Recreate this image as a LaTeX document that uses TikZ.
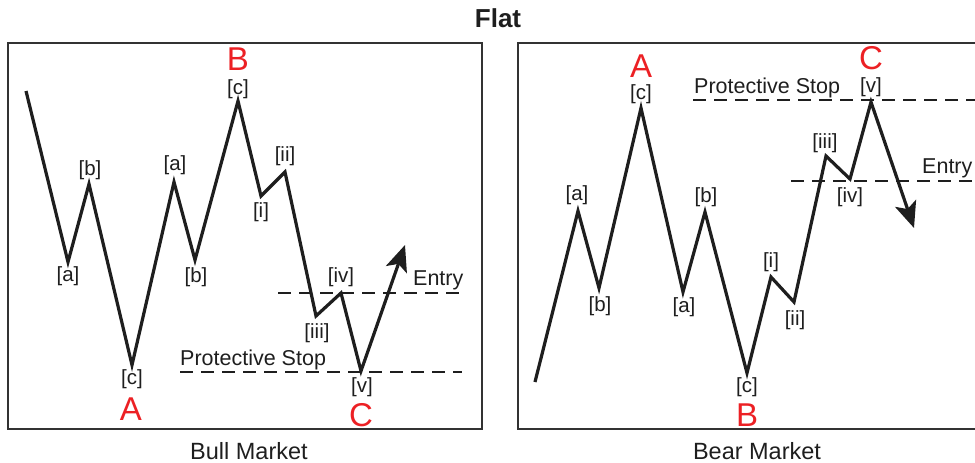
\documentclass[tikz,border=0pt]{standalone}
\usepackage{fontspec}
\setmainfont{Liberation Sans}
\usetikzlibrary{arrows.meta}
\definecolor{wred}{RGB}{236,32,36}
\definecolor{ink}{RGB}{30,30,30}
\definecolor{frame}{RGB}{50,50,50}
\begin{document}
\begin{tikzpicture}[x=1pt,y=-1pt,
  wave/.style={line width=3.2pt, line join=miter, draw=ink},
  wavearrow/.style={wave, -{Stealth[length=26pt,width=22pt,inset=6pt]}},
  panel/.style={line width=2.6pt, draw=frame},
  level/.style={line width=2.3pt, draw=ink, dash pattern=on 13pt off 8pt},
  lbl/.style={font=\fontsize{20.5}{20.5}\selectfont, text=ink, inner sep=0pt},
  note/.style={font=\fontsize{21.5}{21.5}\selectfont, text=ink, inner sep=0pt, anchor=base west},
  wl/.style={font=\fontsize{33}{33}\selectfont, text=wred, inner sep=0pt},
  captext/.style={font=\fontsize{23.5}{23.5}\selectfont, text=ink, inner sep=0pt},
  ttl/.style={font=\bfseries\fontsize{26}{26}\selectfont, text=ink, inner sep=0pt}]
\useasboundingbox (0,0) rectangle (975,463);
\clip (0,0) rectangle (975,463);

% title and captions
\node[ttl] (title) at (498,18.5) {Flat};
\node[captext] (bull) at (249,451) {Bull Market};
\node[captext] (bear) at (757,451) {Bear Market};

% panels
\draw[panel] (8,43) rectangle (482,429);
\draw[panel] (990,43) -- (518,43) -- (518,429) -- (990,429);

% ---------- Bull market ----------
\coordinate (L0) at (26,91);
\coordinate (L1) at (68,262);
\coordinate (L2) at (89,184);
\coordinate (L3) at (132,365);
\coordinate (L4) at (174,182);
\coordinate (L5) at (195,260);
\coordinate (L6) at (238,101);
\coordinate (L7) at (261,196);
\coordinate (L8) at (285,172);
\coordinate (L9) at (316,316);
\coordinate (L10) at (341,293);
\coordinate (L11) at (361,371);
\coordinate (L12) at (405,245);

\coordinate (LS0) at (180,372);
\coordinate (LS1) at (462,372);
\coordinate (LE0) at (278,293);
\coordinate (LE1) at (463,293);
\draw[level] (LS0) -- (LS1);
\draw[level] (LE0) -- (LE1);

\draw[wavearrow] (L0) -- (L1) -- (L2) -- (L3) -- (L4) -- (L5) -- (L6)
  -- (L7) -- (L8) -- (L9) -- (L10) -- (L11) -- (L12);

\node[lbl] (la1) at (68,276) {[a]};
\node[lbl] (lb1) at (90,170) {[b]};
\node[lbl] (lc1) at (132,379) {[c]};
\node[wl]  (lA)  at (131,409) {A};
\node[lbl] (la2) at (175,165) {[a]};
\node[lbl] (lb2) at (196,277) {[b]};
\node[lbl] (lc2) at (238,89) {[c]};
\node[wl]  (lB)  at (238,59) {B};
\node[lbl] (li)  at (261,212) {[i]};
\node[lbl] (lii) at (285,156) {[ii]};
\node[lbl] (liii) at (317,333) {[iii]};
\node[lbl] (liv) at (341,277) {[iv]};
\node[lbl] (lv)  at (362,387) {[v]};
\node[wl]  (lC)  at (361,415) {C};
\node[note] (lentry) at (413,285) {Entry};
\node[note] (lstop) at (180,365) {Protective Stop};

% ---------- Bear market ----------
\coordinate (R0) at (535,382);
\coordinate (R1) at (578,211);
\coordinate (R2) at (599,288);
\coordinate (R3) at (641,108);
\coordinate (R4) at (683,292);
\coordinate (R5) at (705,212);
\coordinate (R6) at (747,373);
\coordinate (R7) at (771,277);
\coordinate (R8) at (794,302);
\coordinate (R9) at (826,156);
\coordinate (R10) at (850,179);
\coordinate (R11) at (871,102);
\coordinate (R12) at (914,228);

\coordinate (RS0) at (693,100);
\coordinate (RS1) at (980,100);
\coordinate (RE0) at (791,181);
\coordinate (RE1) at (980,181);
\draw[level] (RS0) -- (RS1);
\draw[level] (RE0) -- (RE1);

\draw[wavearrow] (R0) -- (R1) -- (R2) -- (R3) -- (R4) -- (R5) -- (R6)
  -- (R7) -- (R8) -- (R9) -- (R10) -- (R11) -- (R12);

\node[lbl] (ra1) at (577,195) {[a]};
\node[lbl] (rb1) at (600,306) {[b]};
\node[lbl] (rc1) at (641,94) {[c]};
\node[wl]  (rA)  at (641,66) {A};
\node[lbl] (ra2) at (684,307) {[a]};
\node[lbl] (rb2) at (706,197) {[b]};
\node[lbl] (rc2) at (747,387) {[c]};
\node[wl]  (rB)  at (747,415) {B};
\node[lbl] (ri)  at (771,262) {[i]};
\node[lbl] (rii) at (795,320) {[ii]};
\node[lbl] (riii) at (825,143) {[iii]};
\node[lbl] (riv) at (850,197) {[iv]};
\node[lbl] (rv)  at (871,87) {[v]};
\node[wl]  (rC)  at (871,58) {C};
\node[note] (rstop) at (694,93) {Protective Stop};
\node[note] (rentry) at (922,173) {Entry};
\end{tikzpicture}
\end{document}
